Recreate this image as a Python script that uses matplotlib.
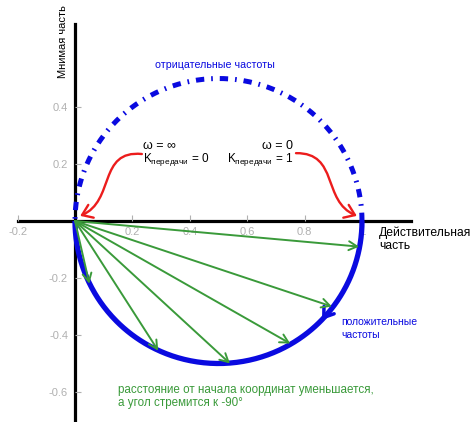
import numpy as np
import matplotlib
matplotlib.use("Agg")
import matplotlib.pyplot as plt
from matplotlib.path import Path
from matplotlib.patches import FancyArrowPatch

plt.rcParams['font.family'] = ['Liberation Sans', 'DejaVu Sans']
plt.rcParams['mathtext.fontset'] = 'custom'
plt.rcParams['mathtext.rm'] = 'Liberation Sans'
plt.rcParams['mathtext.it'] = 'Liberation Sans'
plt.rcParams['axes.unicode_minus'] = False
plt.rcParams['lines.scale_dashes'] = False

# ---- data ----
# Nyquist curve of W(jw) = K/(1+jw)
gain_k = 1.0
vec_re = [0.05, 0.29, 0.54, 0.75, 0.895, 0.99]
vec_im = [-0.22, -0.455, -0.50, -0.43, -0.30, -0.09]
xticks = [-0.2, 0.2, 0.4, 0.6, 0.8, 1.0]
xtick_labels = ['-0.2', '0.2', '0.4', '0.6', '0.8', '1']
yticks = [-0.6, -0.4, -0.2, 0.2, 0.4]
ytick_labels = ['-0.6', '-0.4', '-0.2', '0.2', '0.4']

BLUE = '#0a0ae0'
GREEN = '#3a9a3a'
RED = '#ec1c1c'
GRAY = '#b0b0b0'

fig = plt.figure(figsize=(4.74, 4.22), dpi=100)
ax = fig.add_axes([0, 0, 1, 1])
ax.set_xlim(-75 / 287, (474 - 75) / 287)
ax.set_ylim((221 - 422) / 285, 221 / 285)
ax.set_facecolor('white')

for s in ['top', 'right']:
    ax.spines[s].set_visible(False)
ax.spines['bottom'].set_position(('data', 0))
ax.spines['left'].set_position(('data', 0))
ax.spines['bottom'].set_bounds(-0.2, 1.17)
ax.spines['left'].set_bounds((221 - 430) / 285, 0.69)
for s in ['bottom', 'left']:
    ax.spines[s].set_linewidth(2.3)
    ax.spines[s].set_color('black')
    ax.spines[s].set_zorder(1)

ax.set_xticks(xticks)
ax.set_xticklabels(xtick_labels)
ax.set_yticks(yticks)
ax.set_yticklabels(ytick_labels)
ax.tick_params(axis='both', direction='in', length=4, width=0.8, color=GRAY,
               labelcolor=GRAY, labelsize=8)
ax.tick_params(axis='x', pad=4)
ax.tick_params(axis='y', pad=5)

# Nyquist curve
w_pos = np.logspace(-3, 3, 600)
W = gain_k / (1 + 1j * w_pos)
ax.plot(np.concatenate([[gain_k], W.real, [0]]), np.concatenate([[0], W.imag, [0]]),
        color=BLUE, lw=3.8, solid_capstyle='butt', zorder=3)
Wn = np.conj(W)
ax.plot(np.concatenate([[gain_k], Wn.real, [0]]), np.concatenate([[0], Wn.imag, [0]]),
        color=BLUE, lw=3.6, linestyle=(0, (6, 5, 1.2, 5)), dash_capstyle='butt', zorder=3)

# blue direction arrow on the lower curve
ax.annotate('', xy=(0.855, -0.355), xytext=(0.88, -0.32),
            arrowprops=dict(arrowstyle='->,head_length=0.65,head_width=0.45',
                            color=BLUE, lw=2.5), zorder=4)

# green vectors
for xr, yi in zip(vec_re, vec_im):
    ax.annotate('', xy=(xr, yi), xytext=(0, 0),
                arrowprops=dict(arrowstyle='->,head_length=0.6,head_width=0.32',
                                color=GREEN, lw=1.4, shrinkA=0, shrinkB=0), zorder=5)

# red curved arrows
def s_arrow(p0, p1, p2, p3):
    path = Path([p0, p1, p2, p3], [Path.MOVETO, Path.CURVE4, Path.CURVE4, Path.CURVE4])
    arr = FancyArrowPatch(path=path, arrowstyle='->,head_length=7,head_width=5',
                          color=RED, lw=1.7, zorder=6)
    ax.add_patch(arr)

s_arrow((0.233, 0.235), (0.08, 0.25), (0.14, 0.07), (0.018, 0.018))
s_arrow((0.77, 0.238), (0.92, 0.24), (0.86, 0.07), (0.982, 0.018))

# texts
ax.text(0.488, 0.547, 'отрицательные частоты', color=BLUE, fontsize=7.7,
        ha='center', va='center')
ax.text(0.237, 0.263, 'ω = ∞', fontsize=9, ha='left', va='center')
ax.text(0.237, 0.215, r'K$_{\mathrm{передачи}}$ = 0', fontsize=8.5, ha='left', va='center')
ax.text(0.76, 0.263, 'ω = 0', fontsize=9, ha='right', va='center')
ax.text(0.76, 0.215, r'K$_{\mathrm{передачи}}$ = 1', fontsize=8.5, ha='right', va='center')
ax.text(1.06, -0.063, 'Действительная\nчасть', fontsize=8.7, ha='left', va='center',
        linespacing=1.15)
ax.text(-0.042, 0.628, 'Мнимая часть', fontsize=8.0, rotation=90, ha='center', va='center')
ax.text(0.927, -0.377, 'положительные\nчастоты', color=BLUE, fontsize=7.5, ha='left',
        va='center', linespacing=1.3)
ax.text(0.15, -0.616, 'расстояние от начала координат уменьшается,\nа угол стремится к -90°',
        color=GREEN, fontsize=8.4, ha='left', va='center', linespacing=1.2)

fig.savefig('out.png', dpi=100)
